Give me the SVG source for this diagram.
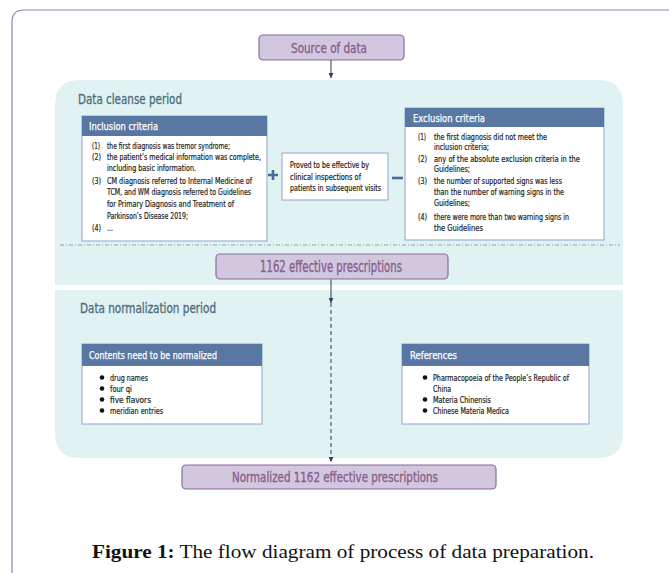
<svg xmlns="http://www.w3.org/2000/svg" width="669" height="575" viewBox="0 0 669 575">
<defs>
<style>
.cond{font-family:"DejaVu Sans Condensed","DejaVu Sans","Liberation Sans",sans-serif;}
.panel{fill:#e1f2f2;}
.pbox{fill:#d1c7df;stroke:#8a6a9a;stroke-width:1.2;}
.ptxt{fill:#8c5f8c;stroke:#8c5f8c;stroke-width:0.35px;font-size:14px;}
.sect{fill:#4e6e7c;stroke:#4e6e7c;stroke-width:0.3px;font-size:13.5px;}
.wbox{fill:#ffffff;stroke:#9fb4d6;stroke-width:1.2;}
.hdr{fill:#5977a3;}
.htxt{fill:#ffffff;stroke:#ffffff;stroke-width:0.25px;font-size:11px;}
.body{fill:#222222;stroke:#222222;stroke-width:0.2px;font-size:9px;}
.conn{stroke:#2d3e5e;stroke-width:1;fill:none;}
</style>
<marker id="ah" viewBox="0 0 10 10" refX="10" refY="5" markerWidth="5" markerHeight="5" orient="auto">
<path d="M0,0 L10,5 L0,10 z" fill="#2d3e5e"/>
</marker>
</defs>
<rect width="669" height="575" fill="#ffffff"/>
<path d="M12,573 L12,22 Q12,10 24,10 L669,10" fill="none" stroke="#8c86b4" stroke-width="1.2"/>

<g id="cleanse-panel">
<path class="panel" d="M55,285 L55,105 Q55,80 80,80 L598,80 Q623,80 623,105 L623,285 z"/>
<text class="cond sect" x="78" y="104" textLength="104" lengthAdjust="spacingAndGlyphs">Data cleanse period</text>
<line x1="60" y1="245" x2="620" y2="245" stroke="#8fa5ad" stroke-width="1" stroke-dasharray="4,2,1,2"/>
</g>
<g id="normalization-panel">
<path class="panel" d="M55,290 L623,290 L623,433 Q623,458 598,458 L80,458 Q55,458 55,433 z"/>
<text class="cond sect" x="80" y="313" textLength="136" lengthAdjust="spacingAndGlyphs">Data normalization period</text>
</g>

<g id="connectors">
<line class="conn" x1="331" y1="60" x2="331" y2="78" marker-end="url(#ah)"/>
<line class="conn" x1="331" y1="279" x2="331" y2="303" marker-end="url(#ah)"/>
<line class="conn" x1="331" y1="303" x2="331" y2="462" stroke-dasharray="4,3" marker-end="url(#ah)"/>
</g>

<g id="source">
<rect class="pbox" x="259" y="35" width="145" height="25" rx="4"/>
<text class="cond ptxt" x="291" y="52.5" textLength="76" lengthAdjust="spacingAndGlyphs">Source of data</text>
</g>

<g id="inclusion">
<rect class="wbox" x="82" y="116" width="185" height="125"/>
<rect class="hdr" x="82" y="116" width="185" height="20"/>
<text class="cond htxt" x="89" y="130" textLength="69" lengthAdjust="spacingAndGlyphs">Inclusion criteria</text>
<g class="cond body">
<text x="92" y="149" textLength="8" lengthAdjust="spacingAndGlyphs">(1)</text><text x="107" y="149" textLength="123" lengthAdjust="spacingAndGlyphs">the first diagnosis was tremor syndrome;</text>
<text x="92" y="160" textLength="9" lengthAdjust="spacingAndGlyphs">(2)</text><text x="107" y="160" textLength="154" lengthAdjust="spacingAndGlyphs">the patient’s medical information was complete,</text>
<text x="107" y="171" textLength="89" lengthAdjust="spacingAndGlyphs">including basic information.</text>
<text x="92" y="184" textLength="9" lengthAdjust="spacingAndGlyphs">(3)</text><text x="107" y="184" textLength="145" lengthAdjust="spacingAndGlyphs">CM diagnosis referred to Internal Medicine of</text>
<text x="107" y="195" textLength="144" lengthAdjust="spacingAndGlyphs">TCM, and WM diagnosis referred to Guidelines</text>
<text x="107" y="207" textLength="127" lengthAdjust="spacingAndGlyphs">for Primary Diagnosis and Treatment of</text>
<text x="107" y="219" textLength="81" lengthAdjust="spacingAndGlyphs">Parkinson’s Disease 2019;</text>
<text x="92" y="231" textLength="9" lengthAdjust="spacingAndGlyphs">(4)</text><text x="107" y="231" textLength="6" lengthAdjust="spacingAndGlyphs">…</text>
</g>
</g>

<g id="plus">
<path d="M268,175 H278 M273,170 V180" stroke="#4a6a9a" stroke-width="2.6"/>
</g>

<g id="proved">
<rect class="wbox" x="282" y="153" width="106" height="47"/>
<g class="cond body" style="font-size:8.5px">
<text x="290" y="168" textLength="79" lengthAdjust="spacingAndGlyphs">Proved to be effective by</text>
<text x="290" y="180" textLength="71" lengthAdjust="spacingAndGlyphs">clinical inspections of</text>
<text x="290" y="191" textLength="91" lengthAdjust="spacingAndGlyphs">patients in subsequent visits</text>
</g>
</g>

<g id="minus">
<path d="M392,178 H403" stroke="#4a6a9a" stroke-width="2.6"/>
</g>

<g id="exclusion">
<rect class="wbox" x="405" y="108" width="199" height="132"/>
<rect class="hdr" x="405" y="108" width="199" height="19"/>
<text class="cond htxt" x="413" y="121.5" textLength="72" lengthAdjust="spacingAndGlyphs">Exclusion criteria</text>
<g class="cond body">
<text x="418" y="140" textLength="8" lengthAdjust="spacingAndGlyphs">(1)</text><text x="434" y="140" textLength="113" lengthAdjust="spacingAndGlyphs">the first diagnosis did not meet the</text>
<text x="434" y="150" textLength="55" lengthAdjust="spacingAndGlyphs">inclusion criteria;</text>
<text x="418" y="162" textLength="9" lengthAdjust="spacingAndGlyphs">(2)</text><text x="434" y="162" textLength="146" lengthAdjust="spacingAndGlyphs">any of the absolute exclusion criteria in the</text>
<text x="434" y="172" textLength="36" lengthAdjust="spacingAndGlyphs">Guidelines;</text>
<text x="418" y="184" textLength="9" lengthAdjust="spacingAndGlyphs">(3)</text><text x="434" y="184" textLength="128" lengthAdjust="spacingAndGlyphs">the number of supported signs was less</text>
<text x="434" y="195" textLength="130" lengthAdjust="spacingAndGlyphs">than the number of warning signs in the</text>
<text x="434" y="206" textLength="36" lengthAdjust="spacingAndGlyphs">Guidelines;</text>
<text x="418" y="220" textLength="9" lengthAdjust="spacingAndGlyphs">(4)</text><text x="434" y="220" textLength="135" lengthAdjust="spacingAndGlyphs">there were more than two warning signs in</text>
<text x="434" y="231" textLength="49" lengthAdjust="spacingAndGlyphs">the Guidelines</text>
</g>
</g>

<g id="effective">
<rect class="pbox" x="216" y="254" width="232" height="25" rx="4"/>
<text class="cond ptxt" x="260" y="272" style="font-size:15px" textLength="142" lengthAdjust="spacingAndGlyphs">1162 effective prescriptions</text>
</g>

<g id="contents">
<rect class="wbox" x="82" y="344" width="180" height="80"/>
<rect class="hdr" x="82" y="344" width="180" height="22"/>
<text class="cond htxt" x="89" y="359" textLength="128" lengthAdjust="spacingAndGlyphs">Contents need to be normalized</text>
<g fill="#111111">
<circle cx="102" cy="377.5" r="2.3"/><circle cx="102" cy="388.5" r="2.3"/><circle cx="102" cy="399.5" r="2.3"/><circle cx="102" cy="410.5" r="2.3"/>
</g>
<g class="cond body">
<text x="110" y="380.5" textLength="38" lengthAdjust="spacingAndGlyphs">drug names</text>
<text x="110" y="391.5" textLength="22" lengthAdjust="spacingAndGlyphs">four qi</text>
<text x="110" y="402.5" textLength="41" lengthAdjust="spacingAndGlyphs">five flavors</text>
<text x="110" y="413.5" textLength="53" lengthAdjust="spacingAndGlyphs">meridian entries</text>
</g>
</g>

<g id="references">
<rect class="wbox" x="402" y="344" width="187" height="80"/>
<rect class="hdr" x="402" y="344" width="187" height="22"/>
<text class="cond htxt" x="410" y="359" textLength="47" lengthAdjust="spacingAndGlyphs">References</text>
<g fill="#111111">
<circle cx="425" cy="377.5" r="2.3"/><circle cx="425" cy="399.5" r="2.3"/><circle cx="425" cy="410.5" r="2.3"/>
</g>
<g class="cond body">
<text x="433" y="380.5" textLength="136" lengthAdjust="spacingAndGlyphs">Pharmacopoeia of the People’s Republic of</text>
<text x="433" y="391.5" textLength="18" lengthAdjust="spacingAndGlyphs">China</text>
<text x="433" y="402.5" textLength="58" lengthAdjust="spacingAndGlyphs">Materia Chinensis</text>
<text x="433" y="413.5" textLength="76" lengthAdjust="spacingAndGlyphs">Chinese Materia Medica</text>
</g>
</g>

<g id="normalized">
<rect class="pbox" x="182" y="465" width="314" height="24" rx="4"/>
<text class="cond ptxt" x="232" y="482" textLength="206" lengthAdjust="spacingAndGlyphs">Normalized 1162 effective prescriptions</text>
</g>

<text x="92" y="558" font-family="Liberation Serif,serif" font-size="18.5px" fill="#111111" textLength="502" lengthAdjust="spacingAndGlyphs"><tspan font-weight="bold">Figure 1:</tspan> The flow diagram of process of data preparation.</text>
</svg>
